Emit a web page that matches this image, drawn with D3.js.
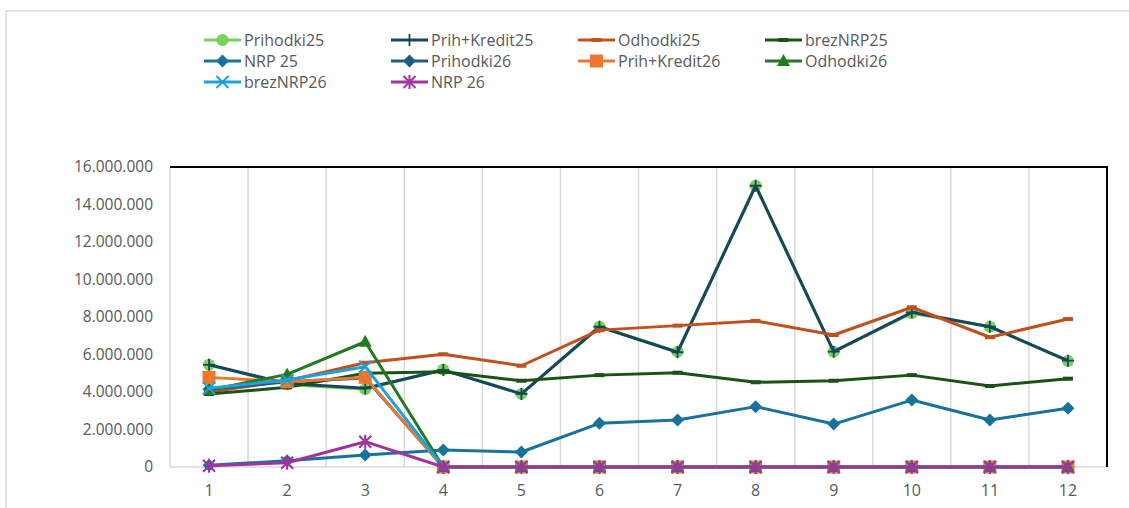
<!DOCTYPE html>
<html lang="sl">
<head>
<meta charset="utf-8">
<title>Prihodki in odhodki</title>
<script src="https://d3js.org/d3.v7.min.js"></script>
<style>
  body { margin: 0; background: #ffffff; }
  svg { display: block; }
  .tick text { font-family: "Open Sans", Roboto, sans-serif; fill: #595959; }
  .legend text { font-family: "Open Sans", Roboto, sans-serif; font-size: 16px; fill: #595959; }
</style>
</head>
<body>
<svg id="chart" width="1129" height="508"></svg>
<script>
// months on the x axis
const months = [1, 2, 3, 4, 5, 6, 7, 8, 9, 10, 11, 12];
const yTicks = [0, 2000000, 4000000, 6000000, 8000000, 10000000, 12000000, 14000000, 16000000];

// series values
const prihodki25   = [5450000, 4400000, 4150000, 5200000, 3900000, 7480000, 6150000, 15000000, 6150000, 8200000, 7480000, 5650000];
const prihKredit25 = [5450000, 4450000, 4200000, 5170000, 3900000, 7480000, 6120000, 15000000, 6150000, 8250000, 7480000, 5670000];
const odhodki25    = [4000000, 4600000, 5560000, 6010000, 5400000, 7300000, 7540000, 7790000, 7040000, 8520000, 6920000, 7890000];
const brezNRP25    = [3890000, 4250000, 5000000, 5080000, 4600000, 4900000, 5030000, 4520000, 4600000, 4900000, 4320000, 4710000];
const nrp25        = [100000, 330000, 640000, 910000, 800000, 2330000, 2510000, 3220000, 2290000, 3570000, 2510000, 3130000];
const prihodki26   = [4150000, 4550000, 4750000, 0, 0, 0, 0, 0, 0, 0, 0, 0];
const prihKredit26 = [4780000, 4550000, 4780000, 0, 0, 0, 0, 0, 0, 0, 0, 0];
const odhodki26    = [4100000, 4940000, 6680000, 0, 0, 0, 0, 0, 0, 0, 0, 0];
const brezNRP26    = [4200000, 4640000, 5350000, 0, 0, 0, 0, 0, 0, 0, 0, 0];
const nrp26        = [70000, 230000, 1350000, 0, 0, 0, 0, 0, 0, 0, 0, 0];

const seriesNames = ["Prihodki25", "Prih+Kredit25", "Odhodki25", "brezNRP25", "NRP 25",
                     "Prihodki26", "Prih+Kredit26", "Odhodki26", "brezNRP26", "NRP 26"];
const seriesValues = [prihodki25, prihKredit25, odhodki25, brezNRP25, nrp25,
                      prihodki26, prihKredit26, odhodki26, brezNRP26, nrp26];
const seriesColors = ["#77d45b", "#17475f", "#c0501c", "#1a5218", "#17739c",
                      "#1e5f85", "#ee7730", "#217a21", "#1ba1db", "#a0349e"];
const seriesMarkers = ["circle", "plus", "dash", "dash", "diamond",
                       "diamond", "square", "triangle", "x", "star"];

const svg = d3.select("#chart");
const w = 1129, h = 508;
const plot = { left: 170, right: 1107, top: 167, bottom: 467 };

// outer chart frame
svg.append("path")
  .attr("d", `M6,${h} V11 H${w}`)
  .attr("fill", "none")
  .attr("stroke", "#d9d9d9")
  .attr("stroke-width", 1.5);

const xScale = d3.scaleBand().domain(months).range([plot.left, plot.right]);
const yScale = d3.scaleLinear().domain([0, 16000000]).range([plot.bottom, plot.top]);
const xc = m => xScale(m) + xScale.bandwidth() / 2;

// vertical grid lines between categories
svg.append("g")
  .selectAll("line")
  .data(months.slice(1))
  .enter()
  .append("line")
  .attr("x1", d => xScale(d)).attr("x2", d => xScale(d))
  .attr("y1", plot.top).attr("y2", plot.bottom)
  .attr("stroke", "#d9d9d9").attr("stroke-width", 1.5);

// plot border: left & bottom grey, top & right black
svg.append("path")
  .attr("d", `M${plot.left},${plot.top} V${plot.bottom} H${plot.right}`)
  .attr("fill", "none").attr("stroke", "#d9d9d9").attr("stroke-width", 1.5);
svg.append("path")
  .attr("d", `M${plot.left},${plot.top} H${plot.right} V${plot.bottom}`)
  .attr("fill", "none").attr("stroke", "#000").attr("stroke-width", 2);

// y axis labels
const fmt = v => d3.format(",")(v).replace(/,/g, ".");
const leftAxis = d3.axisLeft(yScale).tickValues(yTicks).tickFormat(fmt).tickSize(0).tickPadding(17);
svg.append("g")
  .attr("transform", `translate(${plot.left},0)`)
  .call(leftAxis)
  .call(g => g.select(".domain").remove())
  .selectAll("text").style("font-size", "15.5px");

// x axis labels
const bottomAxis = d3.axisBottom(xScale).tickSize(0).tickPadding(18);
svg.append("g")
  .attr("transform", `translate(0,${plot.bottom})`)
  .call(bottomAxis)
  .call(g => g.select(".domain").remove())
  .selectAll("text").style("font-size", "16px");

// marker drawing
function marker(sel, type, color) {
  if (type === "circle") {
    sel.append("circle").attr("r", 6).attr("fill", color);
  } else if (type === "square") {
    sel.append("rect").attr("x", -6.5).attr("y", -6.5).attr("width", 13).attr("height", 13)
      .attr("fill", color);
  } else if (type === "diamond") {
    sel.append("path").attr("d", "M0,-6.5 L6.5,0 L0,6.5 L-6.5,0 Z").attr("fill", color);
  } else if (type === "triangle") {
    sel.append("path").attr("d", "M0,-7 L6.5,5 L-6.5,5 Z").attr("fill", color);
  } else if (type === "dash") {
    sel.append("rect").attr("x", -5).attr("y", -2).attr("width", 10).attr("height", 4)
      .attr("fill", color);
  } else if (type === "plus") {
    sel.append("path").attr("d", "M-6,0 H6 M0,-6 V6").attr("stroke", color).attr("stroke-width", 1.8);
  } else if (type === "x") {
    sel.append("path").attr("d", "M-6,-6 L6,6 M-6,6 L6,-6").attr("stroke", color).attr("stroke-width", 2);
  } else if (type === "star") {
    sel.append("path").attr("d", "M-6,-6 L6,6 M-6,6 L6,-6 M0,-7 V7").attr("stroke", color).attr("stroke-width", 2);
  }
}

const line = d3.line()
  .x((d, i) => xc(months[i]))
  .y(d => yScale(d));

// series, drawn in order so later ones sit on top
seriesValues.forEach((vals, s) => {
  const g = svg.append("g");
  g.append("path")
    .attr("d", line(vals))
    .attr("fill", "none")
    .attr("stroke", seriesColors[s])
    .attr("stroke-width", 3)
    .attr("stroke-linejoin", "round");
  g.selectAll("g.pt")
    .data(vals)
    .enter()
    .append("g")
    .attr("class", "pt")
    .attr("transform", (d, i) => `translate(${xc(months[i])},${yScale(d)})`)
    .each(function () { marker(d3.select(this), seriesMarkers[s], seriesColors[s]); });
});

// legend
const legend = svg.append("g").attr("class", "legend");
seriesNames.forEach((name, i) => {
  const col = i % 4, row = Math.floor(i / 4);
  const lg = legend.append("g")
    .attr("transform", `translate(${204 + col * 187},${40 + row * 21})`);
  lg.append("line").attr("x1", 0).attr("x2", 37).attr("y1", 0).attr("y2", 0)
    .attr("stroke", seriesColors[i]).attr("stroke-width", 3);
  const m = lg.append("g").attr("transform", "translate(18.5,0)");
  marker(m, seriesMarkers[i], seriesColors[i]);
  lg.append("text").attr("x", 40).attr("y", 0).attr("dy", "0.35em").text(name);
});
</script>
</body>
</html>
